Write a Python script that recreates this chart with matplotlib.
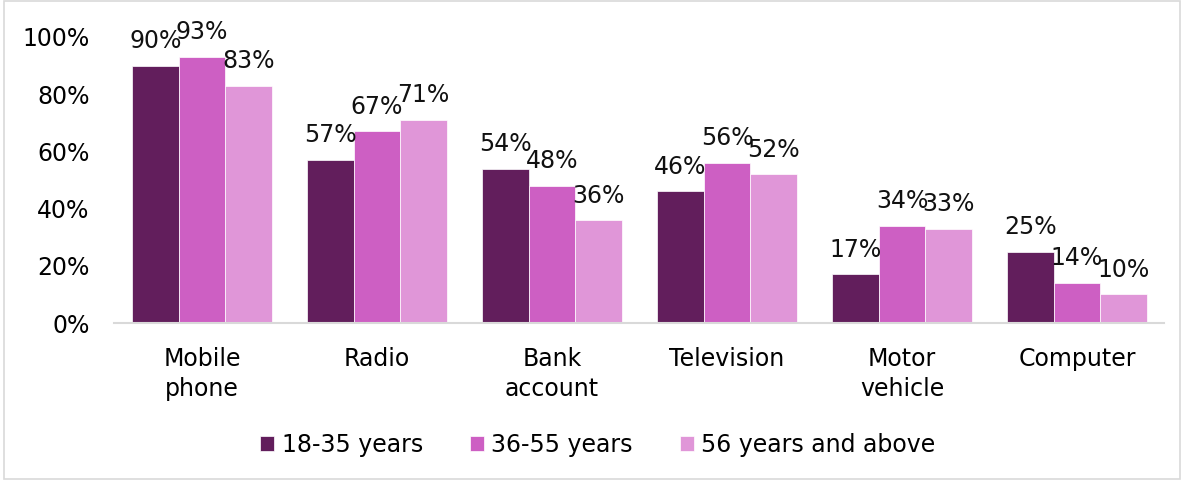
import numpy as np
import matplotlib.pyplot as plt

categories = ['Mobile\nphone', 'Radio', 'Bank\naccount', 'Television', 'Motor\nvehicle', 'Computer']
series_names = ['18-35 years', '36-55 years', '56 years and above']
young = [90, 57, 54, 46, 17, 25]
middle = [93, 67, 48, 56, 34, 14]
older = [83, 71, 36, 52, 33, 10]
colors = ['#621E5C', '#CD5FC3', '#E096D8']

plt.rcParams['font.family'] = ['DejaVu Sans']

fig = plt.figure(figsize=(11.84, 4.8), dpi=100)
ax = fig.add_axes([0.0967, 0.327, 0.8868, 0.596])

x = np.arange(len(categories))
w = 0.267
for i, (vals, name) in enumerate(zip([young, middle, older], series_names)):
    pos = x + (i - 1) * w
    bars = ax.bar(pos, vals, w, color=colors[i], label=name, edgecolor='white', linewidth=0.5)
    for b, v in zip(bars, vals):
        ax.annotate(f'{v}%', (b.get_x() + b.get_width() / 2, v), xytext=(0, 9),
                    textcoords='offset points', ha='center', va='bottom',
                    fontsize=17, color='#111111')

ax.set_xlim(-0.5, len(categories) - 0.5)
ax.set_ylim(0, 100)
ax.set_yticks(range(0, 101, 20))
ax.set_yticklabels([f'{t}%' for t in range(0, 101, 20)], fontsize=17)
ax.set_xticks(x)
ax.set_xticklabels(categories, fontsize=17, linespacing=1.35)
ax.tick_params(axis='y', length=0, pad=18)
ax.tick_params(axis='x', length=0, pad=17)
for s in ['top', 'right', 'left']:
    ax.spines[s].set_visible(False)
ax.spines['bottom'].set_color('#d9d9d9')
ax.spines['bottom'].set_linewidth(1.5)

fig.legend(loc='center', bbox_to_anchor=(0.505, 0.073), ncol=3, frameon=False,
           fontsize=17, handlelength=0.6, handleheight=0.6, handletextpad=0.3, columnspacing=2.0)

border = plt.Rectangle((0.003, 0.003), 0.994, 0.994, transform=fig.transFigure,
                       fill=False, edgecolor='#d9d9d9', linewidth=1.2)
fig.patches.append(border)

fig.savefig('out.png', dpi=100)
